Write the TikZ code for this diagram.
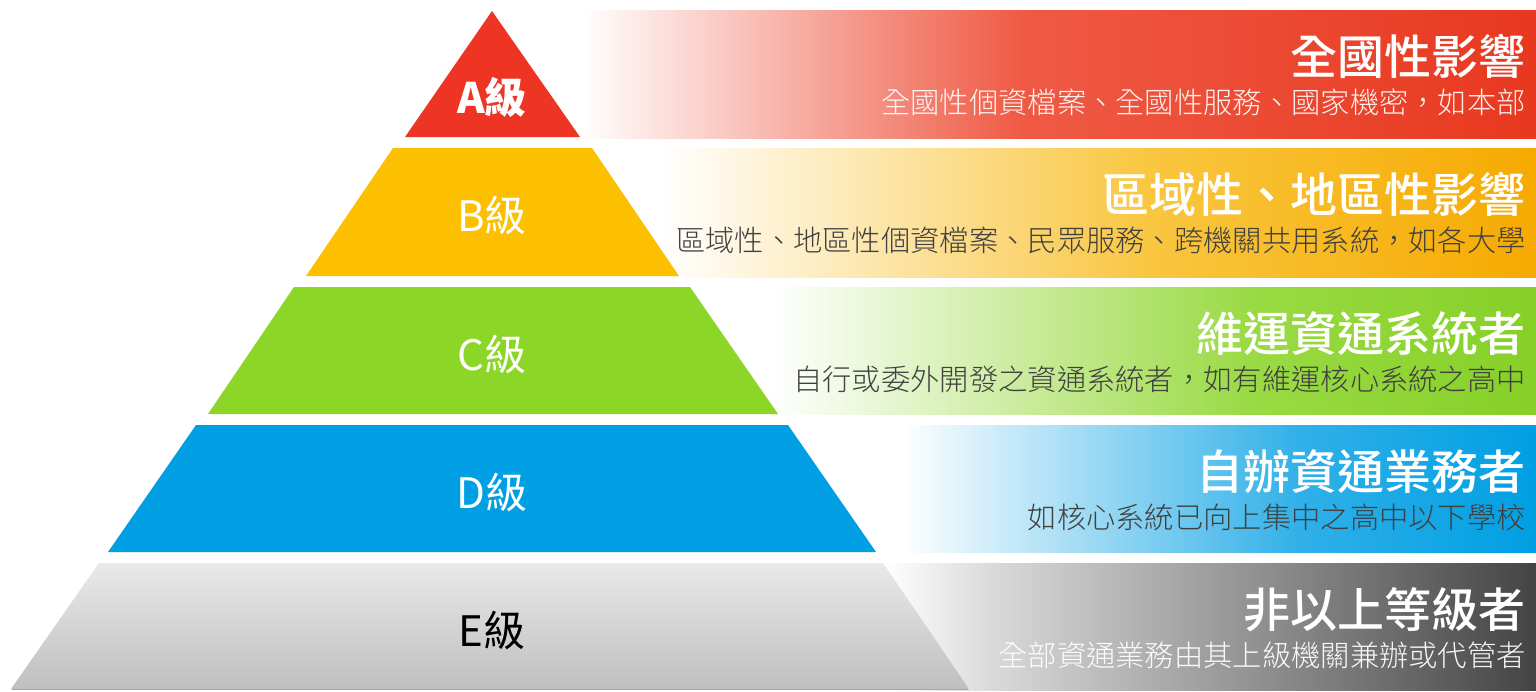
\documentclass[tikz,border=0pt]{standalone}
\usepackage{fontspec}
\setmainfont{Noto Sans CJK TC}
\newfontfamily\subfont{Noto Sans CJK TC Light}
\newfontfamily\titfont{Noto Sans CJK TC Medium}
\definecolor{Ared}{HTML}{EE3524}
\definecolor{Aband}{HTML}{EF5A45}
\definecolor{Aend}{HTML}{E8381F}
\definecolor{Byel}{HTML}{FDC000}
\definecolor{Bband}{HTML}{F9C640}
\definecolor{Bend}{HTML}{F6AA00}
\definecolor{Cgrn}{HTML}{8CD628}
\definecolor{Cband}{HTML}{9ADA44}
\definecolor{Cend}{HTML}{86D027}
\definecolor{Dblu}{HTML}{009FE3}
\definecolor{Dband}{HTML}{30B0E8}
\definecolor{Dend}{HTML}{009FE3}
\definecolor{Eband}{HTML}{DADADA}
\definecolor{Eend}{HTML}{444444}
\definecolor{Etop}{HTML}{E9E9E9}
\definecolor{Ebot}{HTML}{BFBFBF}
\definecolor{subgray}{HTML}{404040}
\begin{document}
\begin{tikzpicture}[x=1pt,y=-1pt,
  title/.style={anchor=base east, inner sep=0pt, text=white, font=\fontsize{47}{50}\titfont},
  sub/.style={anchor=base east, inner sep=0pt, font=\fontsize{29.3}{32}\subfont},
  lvl/.style={anchor=base, inner sep=0pt, font=\fontsize{42}{44}\selectfont}]
\useasboundingbox[fill=white] (0,0) rectangle (1536,691);

% ---- bands ----
% A
\shade[left color=white, right color=Aband] (580,10) rectangle (1021,138);
\shade[left color=Aband, right color=Aend] (1020,10) rectangle (1536,138);
% B
\shade[left color=white, right color=Bband] (660,148) rectangle (1151,277);
\shade[left color=Bband, right color=Bend] (1150,148) rectangle (1536,277);
% C
\shade[left color=white, right color=Cband] (770,287) rectangle (1251,414);
\shade[left color=Cband, right color=Cend] (1250,287) rectangle (1536,414);
% D
\shade[left color=white, right color=Dband] (900,425) rectangle (1301,552);
\shade[left color=Dband, right color=Dend] (1300,425) rectangle (1536,552);
% E
\shade[left color=white, right color=Eband] (883,563) rectangle (991,690);
\shade[left color=Eband, right color=Eend] (990,563) rectangle (1536,690);

% ---- pyramid ----
\fill[Ared] (492,11) -- (580,137) -- (405,137) -- cycle;
\fill[Byel] (393,148) -- (592,148) -- (679,276) -- (306,276) -- cycle;
\fill[Cgrn] (294,287) -- (690,287) -- (778,414) -- (208,414) -- cycle;
\fill[Dblu] (196,425) -- (788,425) -- (876,552) -- (108,552) -- cycle;
\shade[top color=Etop, bottom color=Ebot] (99,563) -- (883,563) -- (969,689) -- (11,689) -- cycle;
\draw[line width=1.5pt, color=black!35] (12,689.5) -- (968,689.5);

% ---- level labels ----
\node[lvl, text=white, font=\fontsize{42}{44}\selectfont\bfseries] (la) at (492,113) {A級};
\node[lvl, text=white] (lb) at (492,231) {B級};
\node[lvl, text=white] (lc) at (492,370) {C級};
\node[lvl, text=white] (ld) at (492,508) {D級};
\node[lvl, text=black] (le) at (492,646) {E級};

% ---- titles and descriptions ----
\node[title] (ta) at (1526,74) {全國性影響};
\node[sub, text=white, opacity=0.92] (sa) at (1526,113) {全國性個資檔案、全國性服務、國家機密，如本部};

\node[title] (tb) at (1526,212) {區域性、地區性影響};
\node[sub, text=subgray] (sb) at (1526,251) {區域性、地區性個資檔案、民眾服務、跨機關共用系統，如各大學};

\node[title] (tc) at (1526,351) {維運資通系統者};
\node[sub, text=subgray] (sc) at (1526,390) {自行或委外開發之資通系統者，如有維運核心系統之高中};

\node[title] (td) at (1526,489) {自辦資通業務者};
\node[sub, text=subgray] (sd) at (1526,528) {如核心系統已向上集中之高中以下學校};

\node[title] (te) at (1526,627) {非以上等級者};
\node[sub, text=white, opacity=0.95] (se) at (1526,666) {全部資通業務由其上級機關兼辦或代管者};
\end{tikzpicture}
\end{document}
